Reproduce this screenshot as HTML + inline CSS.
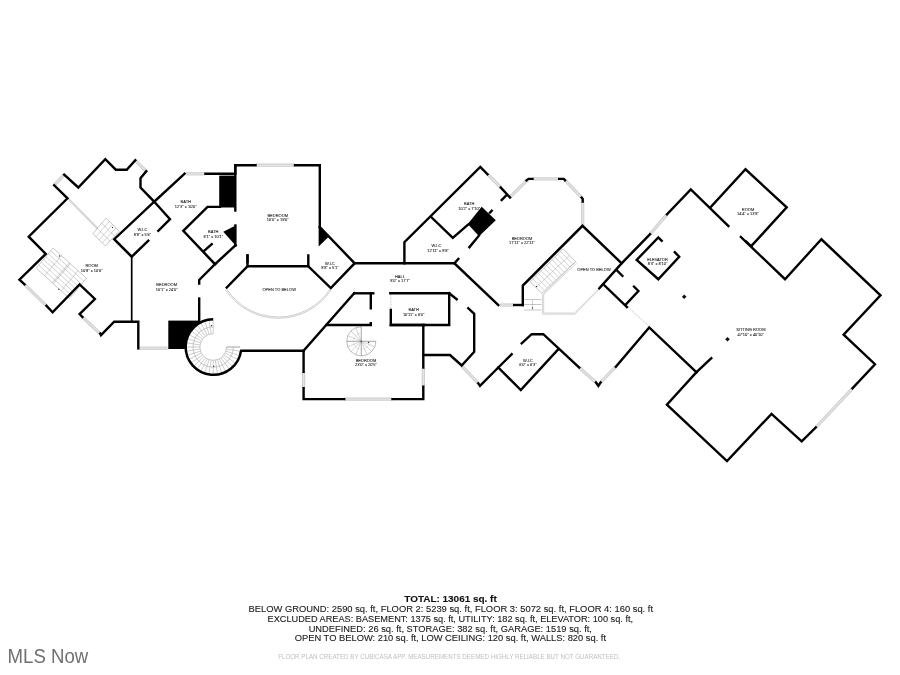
<!DOCTYPE html>
<html><head><meta charset="utf-8"><style>
html,body{margin:0;padding:0;background:#fff;}
body{width:900px;height:675px;position:relative;overflow:hidden;font-family:"Liberation Sans",sans-serif;}
svg{position:absolute;left:0;top:0;will-change:transform;}
svg text{font-family:"Liberation Sans",sans-serif;font-size:4px;fill:#111;stroke:#111;stroke-width:0.06px;}
.sum{position:absolute;left:0;width:900px;text-align:center;color:#1a1a1a;font-size:8.6px;line-height:10px;white-space:nowrap;}
.tot{font-weight:bold;}
.foot{position:absolute;left:0;width:900px;text-align:center;color:#c4c4c4;font-size:6.6px;white-space:nowrap;}
.mls{position:absolute;left:6px;top:644px;font-size:20px;color:#6a6a6a;white-space:nowrap;}
</style></head><body>
<svg width="900" height="675" viewBox="0 0 900 675">
<polygon points="219.2,175.6 235.4,175.6 235.4,207.5 219.2,207.5" fill="#000"/>
<polygon points="223.3,231.7 235.6,225.5 235.6,245.5" fill="#000"/>
<polygon points="168.3,320.6 199.5,320.6 199.5,349.0 168.3,349.0" fill="#000"/>
<polygon points="318.6,226.4 328.5,237.0 318.6,246.4" fill="#000"/>
<polygon points="467.8,224.0 481.7,206.7 495.8,220.2 479.0,236.2" fill="#000"/>
<circle cx="213.2" cy="347.0" r="27" fill="#fff"/>
<path d="M226.7,289.2 A61.9,61.9 0 0 0 330.0,289.2" fill="none" stroke="#b8b8b8" stroke-width="0.7"/>
<path d="M225.6,289.9 A63.2,63.2 0 0 0 331.1,289.9" fill="none" stroke="#b8b8b8" stroke-width="0.7"/>
<polyline points="575.6,261.7 542.5,294.5 542.5,314.2 575.0,314.2 599.2,289.2" fill="none" stroke="#b8b8b8" stroke-width="0.6"/>
<polyline points="576.8,262.9 543.7,294.5 543.7,313.0 574.5,313.0 598.8,288.8" fill="none" stroke="#b8b8b8" stroke-width="0.6"/>
<line x1="68.4" y1="198.9" x2="97.3" y2="228.2" stroke="#c8c8c8" stroke-width="2"/><line x1="68.4" y1="198.9" x2="97.3" y2="228.2" stroke="#e8e8e8" stroke-width="0.8"/>
<polygon points="53.2,248.1 86.4,278.4 69.4,298.4 36.2,268.1" fill="none" stroke="#909090" stroke-width="0.5"/>
<line x1="50.8" y1="251.0" x2="84.0" y2="281.3" stroke="#909090" stroke-width="0.4"/>
<line x1="48.3" y1="253.8" x2="81.5" y2="284.1" stroke="#909090" stroke-width="0.4"/>
<line x1="45.9" y1="256.7" x2="79.1" y2="287.0" stroke="#909090" stroke-width="0.4"/>
<line x1="43.5" y1="259.5" x2="76.7" y2="289.8" stroke="#909090" stroke-width="0.4"/>
<line x1="41.1" y1="262.4" x2="74.3" y2="292.7" stroke="#909090" stroke-width="0.4"/>
<line x1="38.6" y1="265.2" x2="71.8" y2="295.5" stroke="#909090" stroke-width="0.4"/>
<line x1="61.5" y1="255.7" x2="44.5" y2="275.7" stroke="#909090" stroke-width="0.4"/>
<line x1="78.1" y1="270.8" x2="61.1" y2="290.8" stroke="#909090" stroke-width="0.4"/>
<line x1="69.3" y1="262.8" x2="52.3" y2="282.8" stroke="#909090" stroke-width="0.45"/>
<line x1="70.3" y1="263.7" x2="53.3" y2="283.7" stroke="#909090" stroke-width="0.45"/>
<polygon points="106.2,218.0 119.1,231.3 105.3,246.0 92.9,233.6" fill="none" stroke="#909090" stroke-width="0.5"/>
<line x1="101.8" y1="223.2" x2="114.5" y2="236.2" stroke="#909090" stroke-width="0.4"/>
<line x1="97.3" y1="228.4" x2="109.9" y2="241.1" stroke="#909090" stroke-width="0.4"/>
<line x1="109.4" y1="221.3" x2="96.0" y2="236.7" stroke="#909090" stroke-width="0.4"/>
<line x1="112.7" y1="224.7" x2="99.1" y2="239.8" stroke="#909090" stroke-width="0.4"/>
<line x1="115.9" y1="228.0" x2="102.2" y2="242.9" stroke="#909090" stroke-width="0.4"/>
<polygon points="563.3,248.9 575.6,261.7 541.7,293.3 530.0,281.7" fill="none" stroke="#909090" stroke-width="0.5"/>
<line x1="560.5" y1="251.6" x2="572.8" y2="264.3" stroke="#909090" stroke-width="0.4"/>
<line x1="557.8" y1="254.4" x2="570.0" y2="267.0" stroke="#909090" stroke-width="0.4"/>
<line x1="555.0" y1="257.1" x2="567.1" y2="269.6" stroke="#909090" stroke-width="0.4"/>
<line x1="552.2" y1="259.8" x2="564.3" y2="272.2" stroke="#909090" stroke-width="0.4"/>
<line x1="549.4" y1="262.6" x2="561.5" y2="274.9" stroke="#909090" stroke-width="0.4"/>
<line x1="546.6" y1="265.3" x2="558.7" y2="277.5" stroke="#909090" stroke-width="0.4"/>
<line x1="543.9" y1="268.0" x2="555.8" y2="280.1" stroke="#909090" stroke-width="0.4"/>
<line x1="541.1" y1="270.8" x2="553.0" y2="282.8" stroke="#909090" stroke-width="0.4"/>
<line x1="538.3" y1="273.5" x2="550.2" y2="285.4" stroke="#909090" stroke-width="0.4"/>
<line x1="535.5" y1="276.2" x2="547.4" y2="288.0" stroke="#909090" stroke-width="0.4"/>
<line x1="532.8" y1="279.0" x2="544.5" y2="290.7" stroke="#909090" stroke-width="0.4"/>
<line x1="569.5" y1="255.3" x2="535.9" y2="287.5" stroke="#909090" stroke-width="0.4"/>
<line x1="524" y1="299.5" x2="541.5" y2="299.5" stroke="#909090" stroke-width="0.5"/>
<line x1="524" y1="304.5" x2="541.5" y2="304.5" stroke="#909090" stroke-width="0.5"/>
<line x1="524" y1="310" x2="541.5" y2="310" stroke="#909090" stroke-width="0.5"/>
<line x1="532.5" y1="299.5" x2="532.5" y2="310" stroke="#909090" stroke-width="0.4"/>
<line x1="213.2" y1="333.7" x2="213.2" y2="320.0" stroke="#909090" stroke-width="0.45"/>
<line x1="211.1" y1="333.9" x2="209.0" y2="320.3" stroke="#909090" stroke-width="0.45"/>
<line x1="209.1" y1="334.4" x2="204.9" y2="321.3" stroke="#909090" stroke-width="0.45"/>
<line x1="207.2" y1="335.1" x2="200.9" y2="322.9" stroke="#909090" stroke-width="0.45"/>
<line x1="205.4" y1="336.2" x2="197.3" y2="325.2" stroke="#909090" stroke-width="0.45"/>
<line x1="203.8" y1="337.6" x2="194.1" y2="327.9" stroke="#909090" stroke-width="0.45"/>
<line x1="202.4" y1="339.2" x2="191.4" y2="331.1" stroke="#909090" stroke-width="0.45"/>
<line x1="201.3" y1="341.0" x2="189.1" y2="334.7" stroke="#909090" stroke-width="0.45"/>
<line x1="200.6" y1="342.9" x2="187.5" y2="338.7" stroke="#909090" stroke-width="0.45"/>
<line x1="200.1" y1="344.9" x2="186.5" y2="342.8" stroke="#909090" stroke-width="0.45"/>
<line x1="199.9" y1="347.0" x2="186.2" y2="347.0" stroke="#909090" stroke-width="0.45"/>
<line x1="200.1" y1="349.1" x2="186.5" y2="351.2" stroke="#909090" stroke-width="0.45"/>
<line x1="200.6" y1="351.1" x2="187.5" y2="355.3" stroke="#909090" stroke-width="0.45"/>
<line x1="201.3" y1="353.0" x2="189.1" y2="359.3" stroke="#909090" stroke-width="0.45"/>
<line x1="202.4" y1="354.8" x2="191.4" y2="362.9" stroke="#909090" stroke-width="0.45"/>
<line x1="203.8" y1="356.4" x2="194.1" y2="366.1" stroke="#909090" stroke-width="0.45"/>
<line x1="205.4" y1="357.8" x2="197.3" y2="368.8" stroke="#909090" stroke-width="0.45"/>
<line x1="207.2" y1="358.9" x2="200.9" y2="371.1" stroke="#909090" stroke-width="0.45"/>
<line x1="209.1" y1="359.6" x2="204.9" y2="372.7" stroke="#909090" stroke-width="0.45"/>
<line x1="211.1" y1="360.1" x2="209.0" y2="373.7" stroke="#909090" stroke-width="0.45"/>
<line x1="213.2" y1="360.3" x2="213.2" y2="374.0" stroke="#909090" stroke-width="0.45"/>
<line x1="215.3" y1="360.1" x2="217.4" y2="373.7" stroke="#909090" stroke-width="0.45"/>
<line x1="217.3" y1="359.6" x2="221.5" y2="372.7" stroke="#909090" stroke-width="0.45"/>
<line x1="219.2" y1="358.9" x2="225.5" y2="371.1" stroke="#909090" stroke-width="0.45"/>
<line x1="221.0" y1="357.8" x2="229.1" y2="368.8" stroke="#909090" stroke-width="0.45"/>
<line x1="222.6" y1="356.4" x2="232.3" y2="366.1" stroke="#909090" stroke-width="0.45"/>
<line x1="224.0" y1="354.8" x2="235.0" y2="362.9" stroke="#909090" stroke-width="0.45"/>
<line x1="225.1" y1="353.0" x2="237.3" y2="359.3" stroke="#909090" stroke-width="0.45"/>
<line x1="225.8" y1="351.1" x2="238.9" y2="355.3" stroke="#909090" stroke-width="0.45"/>
<line x1="226.3" y1="349.1" x2="239.9" y2="351.2" stroke="#909090" stroke-width="0.45"/>
<line x1="226.5" y1="347.0" x2="240.2" y2="347.0" stroke="#909090" stroke-width="0.45"/>
<path d="M213.2,333.7 A13.3,13.3 0 1 0 226.5,347.0" fill="none" stroke="#909090" stroke-width="0.45"/>
<path d="M213.2,326.9 A20.15,20.15 0 1 0 233.3,347.0" fill="none" stroke="#909090" stroke-width="0.45"/>
<line x1="226.5" y1="347.0" x2="240.2" y2="347.0" stroke="#909090" stroke-width="0.5"/>
<path d="M361.3,326.7 A14.6,14.6 0 1 0 375.9,341.3" fill="none" stroke="#909090" stroke-width="0.6"/>
<path d="M361.3,333.3 A8.030000000000001,8.030000000000001 0 1 0 369.3,341.3" fill="none" stroke="#c8c8c8" stroke-width="0.4"/>
<line x1="361.3" y1="341.3" x2="361.3" y2="326.7" stroke="#909090" stroke-width="0.4"/>
<line x1="361.3" y1="341.3" x2="355.7" y2="327.8" stroke="#909090" stroke-width="0.4"/>
<line x1="361.3" y1="341.3" x2="351.0" y2="331.0" stroke="#909090" stroke-width="0.4"/>
<line x1="361.3" y1="341.3" x2="347.8" y2="335.7" stroke="#909090" stroke-width="0.4"/>
<line x1="361.3" y1="341.3" x2="346.7" y2="341.3" stroke="#909090" stroke-width="0.4"/>
<line x1="361.3" y1="341.3" x2="347.8" y2="346.9" stroke="#909090" stroke-width="0.4"/>
<line x1="361.3" y1="341.3" x2="351.0" y2="351.6" stroke="#909090" stroke-width="0.4"/>
<line x1="361.3" y1="341.3" x2="355.7" y2="354.8" stroke="#909090" stroke-width="0.4"/>
<line x1="361.3" y1="341.3" x2="361.3" y2="355.9" stroke="#909090" stroke-width="0.4"/>
<line x1="361.3" y1="341.3" x2="366.9" y2="354.8" stroke="#909090" stroke-width="0.4"/>
<line x1="361.3" y1="341.3" x2="371.6" y2="351.6" stroke="#909090" stroke-width="0.4"/>
<line x1="361.3" y1="341.3" x2="374.8" y2="346.9" stroke="#909090" stroke-width="0.4"/>
<line x1="361.3" y1="341.3" x2="375.9" y2="341.3" stroke="#909090" stroke-width="0.4"/>
<line x1="346.7" y1="341.3" x2="375.9" y2="341.3" stroke="#888" stroke-width="0.5"/>
<line x1="361.3" y1="326.7" x2="361.3" y2="355.9" stroke="#888" stroke-width="0.5"/>
<polyline points="54.6,184.8 64.2,174.7" fill="none" stroke="#cbcbcb" stroke-width="3.2"/>
<polyline points="54.6,184.8 64.2,174.7" fill="none" stroke="#e4e4e4" stroke-width="1.4"/>
<polyline points="135.3,160.3 146.3,171.3" fill="none" stroke="#cbcbcb" stroke-width="3.2"/>
<polyline points="135.3,160.3 146.3,171.3" fill="none" stroke="#e4e4e4" stroke-width="1.4"/>
<polyline points="24.5,284.4 46.5,305.8" fill="none" stroke="#cbcbcb" stroke-width="3.2"/>
<polyline points="24.5,284.4 46.5,305.8" fill="none" stroke="#e4e4e4" stroke-width="1.4"/>
<polyline points="82.4,317.0 100.2,333.6" fill="none" stroke="#cbcbcb" stroke-width="3.2"/>
<polyline points="82.4,317.0 100.2,333.6" fill="none" stroke="#e4e4e4" stroke-width="1.4"/>
<polyline points="138.3,348.2 167.5,348.2" fill="none" stroke="#cbcbcb" stroke-width="3.2"/>
<polyline points="138.3,348.2 167.5,348.2" fill="none" stroke="#e4e4e4" stroke-width="1.4"/>
<polyline points="186.2,173.8 205.5,173.8" fill="none" stroke="#cbcbcb" stroke-width="3.2"/>
<polyline points="186.2,173.8 205.5,173.8" fill="none" stroke="#e4e4e4" stroke-width="1.4"/>
<polyline points="255.5,165.2 295.0,165.2" fill="none" stroke="#cbcbcb" stroke-width="3.2"/>
<polyline points="255.5,165.2 295.0,165.2" fill="none" stroke="#e4e4e4" stroke-width="1.4"/>
<polyline points="303.6,371.7 303.6,388.3" fill="none" stroke="#cbcbcb" stroke-width="3.2"/>
<polyline points="303.6,371.7 303.6,388.3" fill="none" stroke="#e4e4e4" stroke-width="1.4"/>
<polyline points="344.2,399.1 392.5,399.1" fill="none" stroke="#cbcbcb" stroke-width="3.2"/>
<polyline points="344.2,399.1 392.5,399.1" fill="none" stroke="#e4e4e4" stroke-width="1.4"/>
<polyline points="423.3,386.7 423.3,367.5" fill="none" stroke="#cbcbcb" stroke-width="3.2"/>
<polyline points="423.3,386.7 423.3,367.5" fill="none" stroke="#e4e4e4" stroke-width="1.4"/>
<polyline points="461.7,365.8 478.3,383.3" fill="none" stroke="#cbcbcb" stroke-width="3.2"/>
<polyline points="461.7,365.8 478.3,383.3" fill="none" stroke="#e4e4e4" stroke-width="1.4"/>
<polyline points="579.2,367.5 596.0,382.5" fill="none" stroke="#cbcbcb" stroke-width="3.2"/>
<polyline points="579.2,367.5 596.0,382.5" fill="none" stroke="#e4e4e4" stroke-width="1.4"/>
<polyline points="600.6,382.5 615.8,366.7" fill="none" stroke="#cbcbcb" stroke-width="3.2"/>
<polyline points="600.6,382.5 615.8,366.7" fill="none" stroke="#e4e4e4" stroke-width="1.4"/>
<polyline points="487.5,174.2 500.8,187.5" fill="none" stroke="#cbcbcb" stroke-width="3.2"/>
<polyline points="487.5,174.2 500.8,187.5" fill="none" stroke="#e4e4e4" stroke-width="1.4"/>
<polyline points="510.0,197.2 527.5,179.8" fill="none" stroke="#cbcbcb" stroke-width="3.2"/>
<polyline points="510.0,197.2 527.5,179.8" fill="none" stroke="#e4e4e4" stroke-width="1.4"/>
<polyline points="532.5,178.9 559.2,178.9" fill="none" stroke="#cbcbcb" stroke-width="3.2"/>
<polyline points="532.5,178.9 559.2,178.9" fill="none" stroke="#e4e4e4" stroke-width="1.4"/>
<polyline points="565.0,180.2 581.7,197.6" fill="none" stroke="#cbcbcb" stroke-width="3.2"/>
<polyline points="565.0,180.2 581.7,197.6" fill="none" stroke="#e4e4e4" stroke-width="1.4"/>
<polyline points="582.7,201.5 582.7,225.0" fill="none" stroke="#cbcbcb" stroke-width="3.2"/>
<polyline points="582.7,201.5 582.7,225.0" fill="none" stroke="#e4e4e4" stroke-width="1.4"/>
<polyline points="500.0,305.0 514.0,305.0" fill="none" stroke="#cbcbcb" stroke-width="3.2"/>
<polyline points="500.0,305.0 514.0,305.0" fill="none" stroke="#e4e4e4" stroke-width="1.4"/>
<polyline points="650.0,234.2 667.0,214.4" fill="none" stroke="#cbcbcb" stroke-width="3.2"/>
<polyline points="650.0,234.2 667.0,214.4" fill="none" stroke="#e4e4e4" stroke-width="1.4"/>
<polyline points="852.5,388.3 815.8,427.5" fill="none" stroke="#cbcbcb" stroke-width="3.2"/>
<polyline points="852.5,388.3 815.8,427.5" fill="none" stroke="#e4e4e4" stroke-width="1.4"/>
<polyline points="627.5,306.7 648.3,325.8" fill="none" stroke="#e2e2e2" stroke-width="1.6" stroke-dasharray="2 1"/>
<polyline points="390.8,294.5 390.8,309.5" fill="none" stroke="#e2e2e2" stroke-width="1.6" stroke-dasharray="2 1"/>
<polyline points="131.7,256.7 131.7,321.7" fill="none" stroke="#000" stroke-width="1.7"/>
<polyline points="54.2,185.3 67.5,198.3 28.7,236.7 45.8,253.9 19.4,279.7 24.5,284.4" fill="none" stroke="#000" stroke-width="2.4" stroke-linejoin="miter" stroke-linecap="square"/>
<polyline points="64.2,174.7 78.3,187.5 105.3,159.2 115.8,169.7 126.7,169.7 135.3,160.3" fill="none" stroke="#000" stroke-width="2.4" stroke-linejoin="miter" stroke-linecap="square"/>
<polyline points="146.3,171.3 140.5,178.3 140.5,187.5 154.2,201.7 184.6,173.8" fill="none" stroke="#000" stroke-width="2.4" stroke-linejoin="miter" stroke-linecap="square"/>
<polyline points="46.5,305.8 52.6,312.3 79.6,284.4 94.9,299.0 79.6,314.1 82.4,317.0" fill="none" stroke="#000" stroke-width="2.4" stroke-linejoin="miter" stroke-linecap="square"/>
<polyline points="100.2,333.6 101.0,335.2 114.2,321.7 138.3,321.7 138.3,348.3" fill="none" stroke="#000" stroke-width="2.4" stroke-linejoin="miter" stroke-linecap="square"/>
<polyline points="154.2,201.7 114.2,239.2 131.7,256.7 148.3,240.8" fill="none" stroke="#000" stroke-width="2.4" stroke-linejoin="miter" stroke-linecap="square"/>
<polyline points="158.3,230.8 170.0,219.2 154.2,201.7" fill="none" stroke="#000" stroke-width="2.4" stroke-linejoin="miter" stroke-linecap="square"/>
<polyline points="205.5,173.8 235.3,173.8 235.3,165.2 255.5,165.2" fill="none" stroke="#000" stroke-width="2.4" stroke-linejoin="miter" stroke-linecap="square"/>
<polyline points="295.0,165.2 319.8,165.2 319.8,227.0" fill="none" stroke="#000" stroke-width="2.4" stroke-linejoin="miter" stroke-linecap="square"/>
<polyline points="235.3,165.2 235.3,210.5" fill="none" stroke="#000" stroke-width="2.4" stroke-linejoin="miter" stroke-linecap="square"/>
<polyline points="235.4,225.5 235.4,245.5" fill="none" stroke="#000" stroke-width="2.4" stroke-linejoin="miter" stroke-linecap="square"/>
<polyline points="220.0,206.9 207.5,206.9 183.3,230.8 215.0,264.2 235.6,245.2" fill="none" stroke="#000" stroke-width="2.4" stroke-linejoin="miter" stroke-linecap="square"/>
<polyline points="204.2,250.8 211.7,244.2" fill="none" stroke="#000" stroke-width="2.4" stroke-linejoin="miter" stroke-linecap="square"/>
<polyline points="215.0,264.2 199.2,280.0 199.2,283.5" fill="none" stroke="#000" stroke-width="2.4" stroke-linejoin="miter" stroke-linecap="square"/>
<polyline points="199.2,298.5 199.2,321.0" fill="none" stroke="#000" stroke-width="2.4" stroke-linejoin="miter" stroke-linecap="square"/>
<polyline points="319.8,227.0 354.6,263.3" fill="none" stroke="#000" stroke-width="2.4" stroke-linejoin="miter" stroke-linecap="square"/>
<polyline points="247.5,255.5 247.5,266.3 308.3,266.3 308.3,255.5" fill="none" stroke="#000" stroke-width="2.4" stroke-linejoin="miter" stroke-linecap="square"/>
<polyline points="226.7,287.5 247.5,266.3" fill="none" stroke="#000" stroke-width="2.4" stroke-linejoin="miter" stroke-linecap="square"/>
<polyline points="308.3,266.3 330.8,288.0 354.6,263.3 454.4,263.3 498.3,305.0" fill="none" stroke="#000" stroke-width="2.4" stroke-linejoin="miter" stroke-linecap="square"/>
<polyline points="404.4,263.3 404.4,242.2 480.3,167.0 487.5,174.2" fill="none" stroke="#000" stroke-width="2.4" stroke-linejoin="miter" stroke-linecap="square"/>
<polyline points="247.5,255.5 247.5,262.0" fill="none" stroke="#000" stroke-width="2.4" stroke-linejoin="miter" stroke-linecap="square"/>
<polyline points="241.3,350.8 303.6,350.8" fill="none" stroke="#000" stroke-width="2.4" stroke-linejoin="miter" stroke-linecap="square"/>
<polyline points="354.2,293.3 303.6,350.8 303.6,371.7" fill="none" stroke="#000" stroke-width="2.4" stroke-linejoin="miter" stroke-linecap="square"/>
<polyline points="303.6,388.3 303.6,399.1 344.2,399.1" fill="none" stroke="#000" stroke-width="2.4" stroke-linejoin="miter" stroke-linecap="square"/>
<polyline points="392.5,399.1 423.3,399.1 423.3,386.7" fill="none" stroke="#000" stroke-width="2.4" stroke-linejoin="miter" stroke-linecap="square"/>
<polyline points="423.3,367.5 423.3,325.0" fill="none" stroke="#000" stroke-width="2.4" stroke-linejoin="miter" stroke-linecap="square"/>
<polyline points="354.2,293.3 373.3,293.3" fill="none" stroke="#000" stroke-width="2.4" stroke-linejoin="miter" stroke-linecap="square"/>
<polyline points="370.8,293.3 370.8,308.3" fill="none" stroke="#000" stroke-width="2.4" stroke-linejoin="miter" stroke-linecap="square"/>
<polyline points="370.8,323.3 370.8,325.0 326.7,325.0" fill="none" stroke="#000" stroke-width="2.4" stroke-linejoin="miter" stroke-linecap="square"/>
<polyline points="390.3,293.3 449.2,293.3 449.2,325.0 390.8,325.0 390.8,310.0" fill="none" stroke="#000" stroke-width="2.4" stroke-linejoin="miter" stroke-linecap="square"/>
<polyline points="390.8,325.0 424.2,325.0" fill="none" stroke="#000" stroke-width="2.4" stroke-linejoin="miter" stroke-linecap="square"/>
<polyline points="449.2,293.3 456.7,299.2" fill="none" stroke="#000" stroke-width="2.4" stroke-linejoin="miter" stroke-linecap="square"/>
<polyline points="468.3,308.3 474.2,313.8 474.2,351.7 461.7,365.5 450.0,355.0 423.3,355.0" fill="none" stroke="#000" stroke-width="2.4" stroke-linejoin="miter" stroke-linecap="square"/>
<polyline points="478.3,383.3 480.0,385.8 498.3,367.5 511.7,354.2" fill="none" stroke="#000" stroke-width="2.4" stroke-linejoin="miter" stroke-linecap="square"/>
<polyline points="521.7,343.3 531.7,334.2 543.3,334.2 579.2,367.5" fill="none" stroke="#000" stroke-width="2.4" stroke-linejoin="miter" stroke-linecap="square"/>
<polyline points="596.0,382.5 598.3,385.8 600.6,382.5" fill="none" stroke="#000" stroke-width="2.4" stroke-linejoin="miter" stroke-linecap="square"/>
<polyline points="615.8,366.7 649.2,327.5 696.5,372.2" fill="none" stroke="#000" stroke-width="2.4" stroke-linejoin="miter" stroke-linecap="square"/>
<polyline points="498.3,367.5 520.8,390.0 558.3,349.2" fill="none" stroke="#000" stroke-width="2.4" stroke-linejoin="miter" stroke-linecap="square"/>
<polyline points="500.8,187.5 510.0,197.5" fill="none" stroke="#000" stroke-width="2.4" stroke-linejoin="miter" stroke-linecap="square"/>
<polyline points="506.7,195.0 501.7,200.0" fill="none" stroke="#000" stroke-width="2.4" stroke-linejoin="miter" stroke-linecap="square"/>
<polyline points="526.5,180.4 528.5,178.9 532.5,178.9" fill="none" stroke="#000" stroke-width="2.4" stroke-linejoin="miter" stroke-linecap="square"/>
<polyline points="559.2,178.9 563.8,178.9 565.0,180.2" fill="none" stroke="#000" stroke-width="2.4" stroke-linejoin="miter" stroke-linecap="square"/>
<polyline points="581.7,197.6 582.7,199.0 582.7,201.5" fill="none" stroke="#000" stroke-width="2.4" stroke-linejoin="miter" stroke-linecap="square"/>
<polyline points="522.8,305.0 514.2,305.0" fill="none" stroke="#000" stroke-width="2.4" stroke-linejoin="miter" stroke-linecap="square"/>
<polyline points="522.8,305.0 522.8,285.6 582.5,225.8 621.6,263.4" fill="none" stroke="#000" stroke-width="2.4" stroke-linejoin="miter" stroke-linecap="square"/>
<polyline points="431.7,217.5 452.8,237.8 468.3,224.4" fill="none" stroke="#000" stroke-width="2.4" stroke-linejoin="miter" stroke-linecap="square"/>
<polyline points="479.0,235.6 469.4,247.2" fill="none" stroke="#000" stroke-width="2.4" stroke-linejoin="miter" stroke-linecap="square"/>
<polyline points="458.3,258.9 454.4,263.3" fill="none" stroke="#000" stroke-width="2.4" stroke-linejoin="miter" stroke-linecap="square"/>
<polyline points="490.0,212.5 491.7,210.8" fill="none" stroke="#000" stroke-width="2.4" stroke-linejoin="miter" stroke-linecap="square"/>
<polyline points="599.3,288.3 621.6,263.4 650.0,234.2" fill="none" stroke="#000" stroke-width="2.4" stroke-linejoin="miter" stroke-linecap="square"/>
<polyline points="667.0,214.4 690.8,189.5 728.4,226.1" fill="none" stroke="#000" stroke-width="2.4" stroke-linejoin="miter" stroke-linecap="square"/>
<polyline points="740.9,237.0 785.0,279.2 821.4,239.3 880.5,295.3 843.6,334.6 875.0,364.2 852.5,388.3" fill="none" stroke="#000" stroke-width="2.4" stroke-linejoin="miter" stroke-linecap="square"/>
<polyline points="815.8,427.5 801.7,441.3 771.5,413.9 727.0,461.1 666.9,404.6 696.5,372.2 711.3,358.3" fill="none" stroke="#000" stroke-width="2.4" stroke-linejoin="miter" stroke-linecap="square"/>
<polyline points="710.5,207.4 745.5,169.3 786.7,207.4 751.8,245.5" fill="none" stroke="#000" stroke-width="2.4" stroke-linejoin="miter" stroke-linecap="square"/>
<polyline points="746.0,241.5 751.5,246.5" fill="none" stroke="#000" stroke-width="2.4" stroke-linejoin="miter" stroke-linecap="square"/>
<polyline points="617.1,270.6 622.4,275.9" fill="none" stroke="#000" stroke-width="2.4" stroke-linejoin="miter" stroke-linecap="square"/>
<polyline points="603.3,284.3 626.9,307.0" fill="none" stroke="#000" stroke-width="2.4" stroke-linejoin="miter" stroke-linecap="square"/>
<polyline points="626.0,304.3 638.4,291.0 634.0,286.6" fill="none" stroke="#000" stroke-width="2.4" stroke-linejoin="miter" stroke-linecap="square"/>
<polyline points="661.7,240.8 658.3,237.5 636.7,260.0 658.3,279.2 679.2,256.7 674.8,252.3" fill="none" stroke="#000" stroke-width="2.4" stroke-linejoin="miter" stroke-linecap="square"/>
<path d="M213.2,319.2 A27.8,27.8 0 1 0 241.0,350.8" fill="none" stroke="#000" stroke-width="2.5"/>
<polygon points="684.2,294.4 686.5,296.7 684.2,299.0 681.9,296.7" fill="#111"/>
<polygon points="727.5,336.9 729.8,339.2 727.5,341.5 725.2,339.2" fill="#111"/>
<polygon points="59.5,255.2 60.3,256.0 59.5,256.8 58.7,256.0" fill="#111"/>
<polygon points="58.9,288.4 59.7,289.2 58.9,290.0 58.1,289.2" fill="#111"/>
<polygon points="112.5,226.8 113.2,227.5 112.5,228.2 111.8,227.5" fill="#111"/>
<polygon points="536.5,285.7 537.3,286.5 536.5,287.3 535.7,286.5" fill="#111"/>
<polygon points="532.5,307.2 533.3,308.0 532.5,308.8 531.7,308.0" fill="#111"/>
<polygon points="211.6,324.9 212.4,325.7 211.6,326.5 210.8,325.7" fill="#111"/>
<polygon points="213.8,365.4 214.6,366.2 213.8,367.0 213.0,366.2" fill="#111"/>
<polygon points="368.5,341.7 369.3,342.5 368.5,343.3 367.7,342.5" fill="#111"/>
<polygon points="361.3,340.7 361.9,341.3 361.3,341.9 360.7,341.3" fill="#111"/>
<text x="91.7" y="267.2" text-anchor="middle">ROOM</text>
<text x="91.7" y="271.7" text-anchor="middle">10'8&quot; x 10'6&quot;</text>
<text x="142.5" y="231.4" text-anchor="middle">W.I.C</text>
<text x="142.5" y="235.9" text-anchor="middle">8'8&quot; x 5'6&quot;</text>
<text x="185.8" y="203.1" text-anchor="middle">BATH</text>
<text x="185.8" y="207.7" text-anchor="middle">12'3&quot; x 10'0&quot;</text>
<text x="213.3" y="233.4" text-anchor="middle">BATH</text>
<text x="213.3" y="238.1" text-anchor="middle">8'1&quot; x 10'1&quot;</text>
<text x="166.7" y="286.4" text-anchor="middle">BEDROOM</text>
<text x="166.7" y="290.9" text-anchor="middle">16'1&quot; x 24'0&quot;</text>
<text x="277.8" y="216.7" text-anchor="middle">BEDROOM</text>
<text x="277.8" y="220.9" text-anchor="middle">16'0&quot; x 19'0&quot;</text>
<text x="279.2" y="290.6" text-anchor="middle">OPEN TO BELOW</text>
<text x="330" y="264.7" text-anchor="middle">W.I.C</text>
<text x="330" y="269.2" text-anchor="middle">8'8&quot; x 5'1&quot;</text>
<text x="400" y="278.1" text-anchor="middle">HALL</text>
<text x="400" y="282.2" text-anchor="middle">8'0&quot; x 17'7&quot;</text>
<text x="413.7" y="311.4" text-anchor="middle">BATH</text>
<text x="413.7" y="316.1" text-anchor="middle">10'11&quot; x 6'0&quot;</text>
<text x="366" y="361.7" text-anchor="middle">BEDROOM</text>
<text x="366" y="366.0" text-anchor="middle">23'0&quot; x 20'5&quot;</text>
<text x="469.2" y="205.2" text-anchor="middle">BATH</text>
<text x="469.2" y="209.7" text-anchor="middle">10'2&quot; x 7'10&quot;</text>
<text x="436.5" y="247.0" text-anchor="middle">W.I.C</text>
<text x="438" y="251.6" text-anchor="middle">12'11&quot; x 8'8&quot;</text>
<text x="522" y="239.7" text-anchor="middle">BEDROOM</text>
<text x="522" y="244.1" text-anchor="middle">17'11&quot; x 22'11&quot;</text>
<text x="594" y="271.4" text-anchor="middle">OPEN TO BELOW</text>
<text x="657.5" y="260.9" text-anchor="middle">ELEVATOR</text>
<text x="657.5" y="265.1" text-anchor="middle">8'3&quot; x 8'10&quot;</text>
<text x="748" y="210.6" text-anchor="middle">ROOM</text>
<text x="748" y="214.7" text-anchor="middle">14'4&quot; x 13'8&quot;</text>
<text x="750.8" y="331.4" text-anchor="middle">SITTING ROOM</text>
<text x="750.8" y="335.6" text-anchor="middle">47'10&quot; x 40'10&quot;</text>
<text x="528" y="361.7" text-anchor="middle">W.I.C</text>
<text x="528" y="365.9" text-anchor="middle">6'0&quot; x 6'3&quot;</text>
<text x="450.5" y="601.6" text-anchor="middle" textLength="92.5" lengthAdjust="spacingAndGlyphs" style="font-size:8.4px;font-weight:bold;fill:#111;stroke:#111;stroke-width:0.1px">TOTAL: 13061 sq. ft</text>
<text x="450.75" y="611.7" text-anchor="middle" textLength="404.6" lengthAdjust="spacingAndGlyphs" style="font-size:8.4px;font-weight:normal;fill:#1a1a1a;stroke:#1a1a1a;stroke-width:0.1px">BELOW GROUND: 2590 sq. ft, FLOOR 2: 5239 sq. ft, FLOOR 3: 5072 sq. ft, FLOOR 4: 160 sq. ft</text>
<text x="450.3" y="621.6" text-anchor="middle" textLength="365.5" lengthAdjust="spacingAndGlyphs" style="font-size:8.4px;font-weight:normal;fill:#1a1a1a;stroke:#1a1a1a;stroke-width:0.1px">EXCLUDED AREAS: BASEMENT: 1375 sq. ft, UTILITY: 182 sq. ft, ELEVATOR: 100 sq. ft,</text>
<text x="450.3" y="631.6" text-anchor="middle" textLength="283.3" lengthAdjust="spacingAndGlyphs" style="font-size:8.4px;font-weight:normal;fill:#1a1a1a;stroke:#1a1a1a;stroke-width:0.1px">UNDEFINED: 26 sq. ft, STORAGE: 382 sq. ft, GARAGE: 1519 sq. ft,</text>
<text x="450.4" y="641.3" text-anchor="middle" textLength="311.3" lengthAdjust="spacingAndGlyphs" style="font-size:8.4px;font-weight:normal;fill:#1a1a1a;stroke:#1a1a1a;stroke-width:0.1px">OPEN TO BELOW: 210 sq. ft, LOW CEILING: 120 sq. ft, WALLS: 820 sq. ft</text>
<text x="449.2" y="658.9" text-anchor="middle" textLength="342" lengthAdjust="spacingAndGlyphs" style="font-size:6.3px;font-weight:normal;fill:#c0c0c0;stroke:#c0c0c0;stroke-width:0px">FLOOR PLAN CREATED BY CUBICASA APP. MEASUREMENTS DEEMED HIGHLY RELIABLE BUT NOT GUARANTEED.</text>
<text x="7.6" y="663.3" textLength="80.6" lengthAdjust="spacingAndGlyphs" style="font-size:19.6px;fill:#707070;stroke:none">MLS Now</text>
</svg>
</body></html>
